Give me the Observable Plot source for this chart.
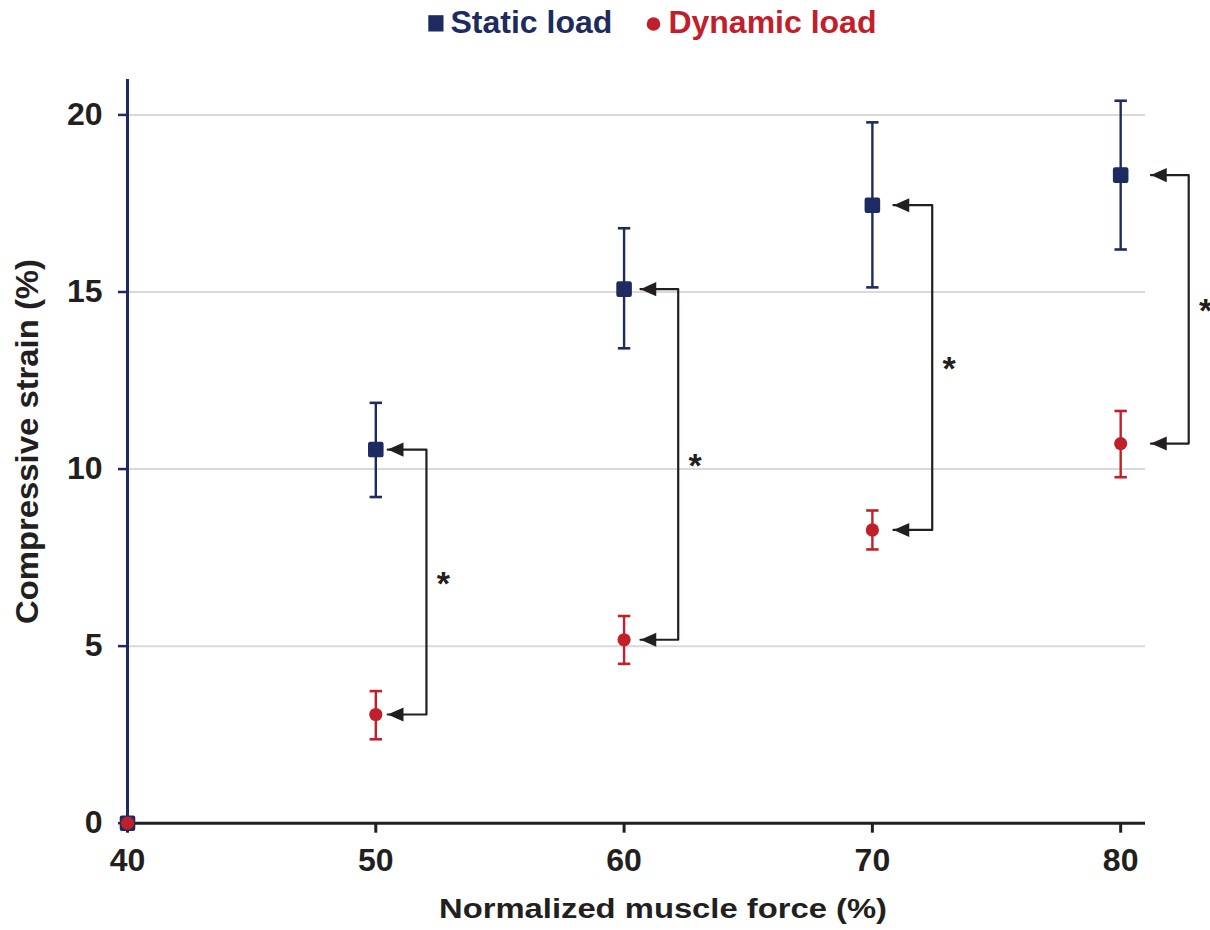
<!DOCTYPE html>
<html>
<head>
<meta charset="utf-8">
<script src="https://cdn.jsdelivr.net/npm/d3@7"></script>
<script src="https://cdn.jsdelivr.net/npm/@observablehq/plot@0.6"></script>
<style>
  html, body { margin: 0; padding: 0; background: white; }
  #wrap { position: relative; width: 1210px; height: 930px; }
  #legend { position: absolute; left: 0; top: 0; z-index: 2; }
</style>
</head>
<body>
<div id="wrap"></div>
<script>
// ---- data ----
const force = [40, 50, 60, 70, 80];
const staticMean = [0, 10.55, 15.08, 17.45, 18.3];
const staticLo   = [0, 9.21, 13.41, 15.13, 16.2];
const staticHi   = [0, 11.87, 16.8, 19.79, 20.4];
const dynamicMean = [0, 3.07, 5.18, 8.28, 10.72];
const dynamicLo   = [0, 2.37, 4.5, 7.73, 9.77];
const dynamicHi   = [0, 3.73, 5.85, 8.83, 11.64];

// significance brackets (data units)
const bracketForce = [50, 60, 70, 80];
const arrowTipX = [50.48, 60.66, 70.85, 81.22];
const bracketX  = [52.04, 62.18, 72.41, 82.74];
const sigLabel = "*";

const xTicks = [40, 50, 60, 70, 80];
const yTicks = [0, 5, 10, 15, 20];
const gridTicks = [5, 10, 15, 20];
const xDomain = [40, 81];
const yDomain = [0, 21];

const seriesNames = ["Static load", "Dynamic load"];
const xTitle = "Normalized muscle force (%)";
const yTitle = "Compressive strain (%)";

// ---- styles ----
const navy = "#1d2b60";
const red = "#c1202b";
const ink = "#231f20";
const grid = "#d9d9d9";
const font = "'Liberation Sans', Arial, Helvetica, sans-serif";

// ---- tables ----
const staticRows = force.map((x, i) => ({x, y: staticMean[i], lo: staticLo[i], hi: staticHi[i]}));
const dynamicRows = force.map((x, i) => ({x, y: dynamicMean[i], lo: dynamicLo[i], hi: dynamicHi[i]}));
const staticErr = staticRows.filter(d => d.hi > d.lo);
const dynamicErr = dynamicRows.filter(d => d.hi > d.lo);

const bracketPaths = [];
const arrowHeads = [];
const stars = [];
bracketForce.forEach((f, k) => {
  const i = force.indexOf(f);
  const s = staticMean[i], d = dynamicMean[i];
  bracketPaths.push({g: k, x: arrowTipX[k], y: s});
  bracketPaths.push({g: k, x: bracketX[k], y: s});
  bracketPaths.push({g: k, x: bracketX[k], y: d});
  bracketPaths.push({g: k, x: arrowTipX[k], y: d});
  arrowHeads.push({x: arrowTipX[k], y: s});
  arrowHeads.push({x: arrowTipX[k], y: d});
  stars.push({x: bracketX[k], y: (s + d) / 2});
});

// ---- custom symbols ----
const capSymbol = {draw(ctx, size) { const r = Math.sqrt(size / Math.PI); ctx.moveTo(-r, 0); ctx.lineTo(r, 0); }};
const arrowSymbol = {draw(ctx, size) {
  const r = Math.sqrt(size / Math.PI);
  ctx.moveTo(0, 0); ctx.lineTo(1.9 * r, -0.85 * r); ctx.lineTo(1.9 * r, 0.85 * r); ctx.closePath();
}};
const roundSquare = {draw(ctx, size) {
  const h = Math.sqrt(size / Math.PI) * 0.89, c = 2.2;
  ctx.moveTo(-h + c, -h);
  ctx.lineTo(h - c, -h); ctx.arcTo(h, -h, h, -h + c, c);
  ctx.lineTo(h, h - c); ctx.arcTo(h, h, h - c, h, c);
  ctx.lineTo(-h + c, h); ctx.arcTo(-h, h, -h, h - c, c);
  ctx.lineTo(-h, -h + c); ctx.arcTo(-h, -h, -h + c, -h, c);
  ctx.closePath();
}};

const plot = Plot.plot({
  width: 1210,
  height: 930,
  marginLeft: 127,
  marginRight: 65,
  marginTop: 79,
  marginBottom: 107.3,
  style: {fontFamily: font, fontWeight: "bold", color: ink, background: "white", overflow: "visible"},
  x: {domain: xDomain},
  y: {domain: yDomain},
  marks: [
    Plot.ruleY(gridTicks, {x1: xDomain[0], x2: xDomain[1], stroke: grid, strokeWidth: 2}),
    Plot.axisY({ticks: yTicks, tickSize: 9, tickPadding: 16, stroke: navy, strokeWidth: 2.5, fill: ink, fontSize: 32, fontWeight: "bold", label: null}),
    Plot.axisX({ticks: xTicks, tickSize: 10, tickPadding: 15, stroke: ink, strokeWidth: 3, fill: ink, fontSize: 32, fontWeight: "bold", label: null}),
    Plot.ruleY([yDomain[0]], {x1: xDomain[0], x2: xDomain[1], stroke: ink, strokeWidth: 3}),
    Plot.ruleX([xDomain[0]], {y1: yDomain[0], y2: yDomain[1], stroke: navy, strokeWidth: 3}),
    // error bars
    Plot.ruleX(staticErr, {x: "x", y1: "lo", y2: "hi", stroke: navy, strokeWidth: 2.4}),
    Plot.dot(staticErr, {x: "x", y: "hi", symbol: capSymbol, r: 6.2, fill: "none", stroke: navy, strokeWidth: 2.6}),
    Plot.dot(staticErr, {x: "x", y: "lo", symbol: capSymbol, r: 6.2, fill: "none", stroke: navy, strokeWidth: 2.6}),
    Plot.ruleX(dynamicErr, {x: "x", y1: "lo", y2: "hi", stroke: red, strokeWidth: 2.4}),
    Plot.dot(dynamicErr, {x: "x", y: "hi", symbol: capSymbol, r: 6.2, fill: "none", stroke: red, strokeWidth: 2.6}),
    Plot.dot(dynamicErr, {x: "x", y: "lo", symbol: capSymbol, r: 6.2, fill: "none", stroke: red, strokeWidth: 2.6}),
    // brackets
    Plot.line(bracketPaths, {x: "x", y: "y", z: "g", stroke: ink, strokeWidth: 2.2, curve: "linear"}),
    Plot.dot(arrowHeads, {x: "x", y: "y", symbol: arrowSymbol, r: 8.3, fill: ink, stroke: "none"}),
    Plot.text(stars, {x: "x", y: "y", text: () => sigLabel, dx: 17, dy: 2, fontSize: 34, fontWeight: "bold", fill: ink}),
    // markers
    Plot.dot(staticRows, {x: "x", y: "y", symbol: roundSquare, r: 8.75, fill: navy, stroke: "none"}),
    Plot.dot(dynamicRows, {x: "x", y: "y", symbol: "circle", r: 6.6, fill: red, stroke: "none"})
  ]
});

// axis titles
const svg = d3.select(plot);
svg.append("text")
  .attr("x", 663).attr("y", 918)
  .attr("text-anchor", "middle")
  .attr("font-size", 28).attr("font-weight", "bold").attr("fill", ink)
  .attr("textLength", 448).attr("lengthAdjust", "spacingAndGlyphs")
  .text(xTitle);
svg.append("text")
  .attr("transform", "translate(37.5,441.5) rotate(-90)")
  .attr("text-anchor", "middle")
  .attr("font-size", 31).attr("font-weight", "bold").attr("fill", ink)
  .attr("textLength", 365).attr("lengthAdjust", "spacingAndGlyphs")
  .text(yTitle);

const wrap = document.getElementById("wrap");
wrap.appendChild(plot);

// legend
const leg = d3.select(wrap).append("svg").attr("id", "legend").attr("width", 1210).attr("height", 50);
leg.append("rect").attr("x", 428.3).attr("y", 15.2).attr("width", 15.2).attr("height", 16.3).attr("fill", navy);
leg.append("text").attr("x", 450.5).attr("y", 33.2).attr("font-family", font).attr("font-weight", "bold")
  .attr("font-size", 32).attr("fill", navy).text(seriesNames[0]);
leg.append("circle").attr("cx", 653.5).attr("cy", 24).attr("r", 6.8).attr("fill", red);
leg.append("text").attr("x", 668.4).attr("y", 33.2).attr("font-family", font).attr("font-weight", "bold")
  .attr("font-size", 32).attr("fill", red).text(seriesNames[1]);
</script>
</body>
</html>
